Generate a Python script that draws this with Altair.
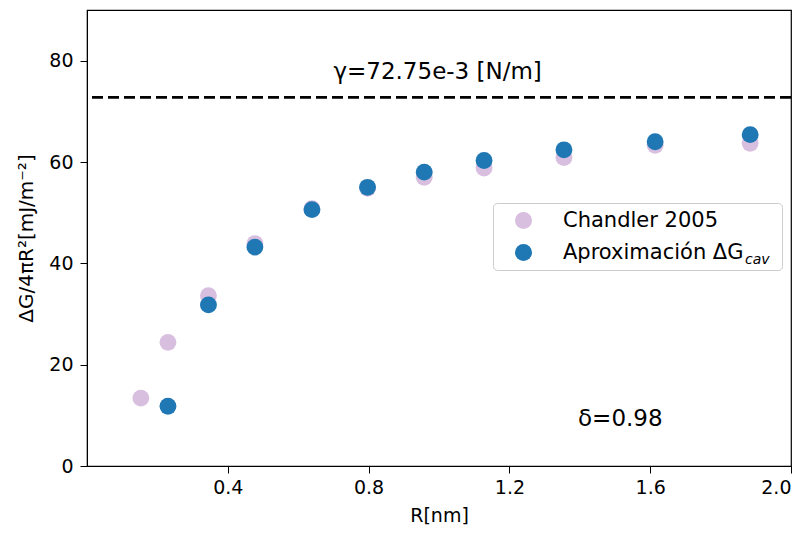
import altair as alt
import pandas as pd

# Data
chandler_r = [0.153, 0.230, 0.345, 0.477, 0.639, 0.797, 0.958, 1.128, 1.355, 1.614, 1.884]
chandler_g = [13.4, 24.4, 33.6, 43.9, 50.8, 54.8, 57.0, 58.8, 60.9, 63.3, 63.7]
aprox_r = [0.230, 0.345, 0.477, 0.639, 0.797, 0.958, 1.128, 1.355, 1.614, 1.884]
aprox_g = [11.8, 31.8, 43.2, 50.6, 55.0, 58.0, 60.3, 62.4, 64.0, 65.4]
gamma_line = [72.75]
series_names = ["Chandler 2005", "Aproximación ΔG\u2800\u2800"]
series_colors = ["#d8bfe0", "#1f77b4"]
x_ticks = [0.4, 0.8, 1.2, 1.6, 2.0]
y_ticks = [0, 20, 40, 60, 80]
annotations = ["γ=72.75e-3 [N/m]", "δ=0.98"]
ann_x = [0.70, 1.395]
ann_y = [76.4, 7.9]

df = pd.concat([
    pd.DataFrame({"R": chandler_r, "G": chandler_g, "serie": series_names[0], "ord": 0}),
    pd.DataFrame({"R": aprox_r, "G": aprox_g, "serie": series_names[1], "ord": 1}),
])

xscale = alt.Scale(domain=[0, 2.0], nice=False, zero=False)
yscale = alt.Scale(domain=[0, 90], nice=False)

points = alt.Chart(df).mark_circle(size=285, opacity=1).encode(
    x=alt.X("R:Q", scale=xscale, title="R[nm]",
            axis=alt.Axis(values=x_ticks, format=".1f", labelPadding=5,
                          titlePadding=9, titleFontSize=19)),
    y=alt.Y("G:Q", scale=yscale, title="ΔG/4πR²[mJ/m⁻²]",
            axis=alt.Axis(values=y_ticks, labelPadding=7, titlePadding=12)),
    color=alt.Color("serie:N",
                    scale=alt.Scale(domain=series_names, range=series_colors),
                    legend=alt.Legend(title=None, orient="none", legendX=406, legendY=193,
                                      symbolType="circle", symbolSize=290,
                                      labelFontSize=21, labelLimit=400, padding=7,
                                      symbolOffset=13, labelOffset=29, rowPadding=10,
                                      strokeColor="#cccccc",
                                      cornerRadius=4, labelColor="black")),
    order=alt.Order("ord:Q"),
)

rule = alt.Chart(pd.DataFrame({"y": gamma_line})).mark_rule(
    color="black", strokeDash=[11, 5], strokeWidth=2.6
).encode(y=alt.Y("y:Q", scale=yscale))

texts = alt.Chart(pd.DataFrame({"x": ann_x, "y": ann_y, "t": annotations})).mark_text(
    align="left", baseline="alphabetic", fontSize=23, color="black"
).encode(x=alt.X("x:Q", scale=xscale), y=alt.Y("y:Q", scale=yscale), text="t:N")

sub = alt.Chart(pd.DataFrame({"t": ["cav"]})).mark_text(
    align="left", baseline="alphabetic", fontSize=14, fontStyle="italic", color="black"
).encode(x=alt.value(658), y=alt.value(254), text="t:N")

chart = alt.layer(rule, points, texts, sub).properties(
    width=704, height=456,
    autosize=alt.AutoSizeParams(type="none"),
    padding={"left": 79, "top": 2, "right": 8, "bottom": 66},
).configure(font="DejaVu Sans").configure_view(
    stroke="black", strokeWidth=1.2
).configure_axis(
    grid=False, domainColor="black", tickColor="black", tickSize=7,
    labelFontSize=19, titleFontSize=20, titleFontWeight="normal",
    labelColor="black", titleColor="black", labelFont="DejaVu Sans", titleFont="DejaVu Sans"
).configure_legend(labelFont="DejaVu Sans")

chart.save("out.html", embed_options={"renderer": "svg", "actions": False})
